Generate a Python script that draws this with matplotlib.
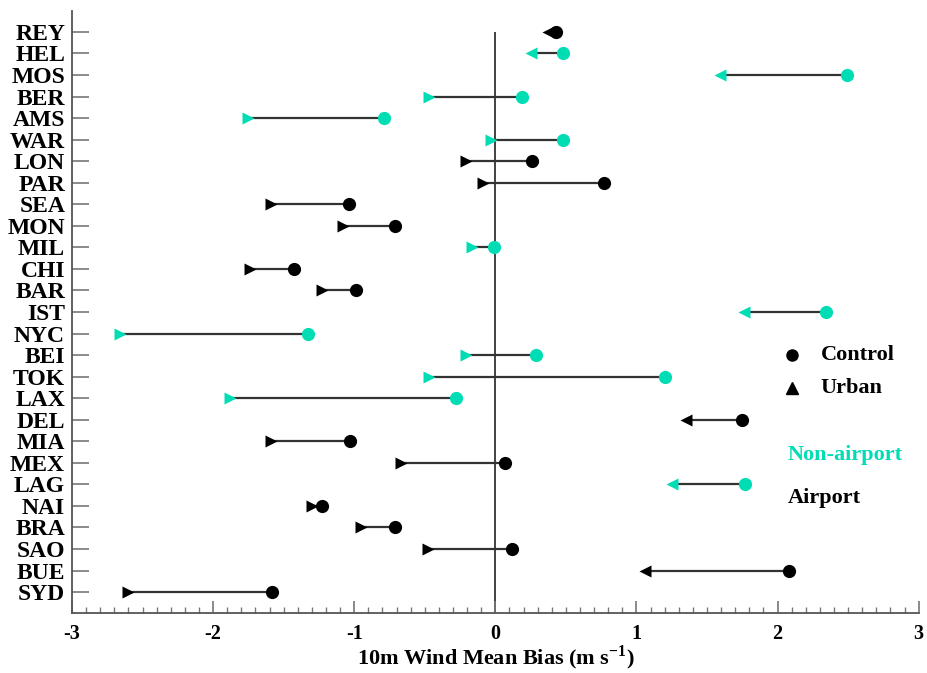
import matplotlib
matplotlib.use("Agg")
import matplotlib.pyplot as plt

plt.rcParams["font.family"] = ["Liberation Serif", "DejaVu Serif"]
plt.rcParams["font.weight"] = "bold"
plt.rcParams["mathtext.fontset"] = "custom"
plt.rcParams["mathtext.rm"] = "Liberation Serif"
plt.rcParams["mathtext.bf"] = "Liberation Serif:bold"

cities = ["REY", "HEL", "MOS", "BER", "AMS", "WAR", "LON", "PAR", "SEA",
          "MON", "MIL", "CHI", "BAR", "IST", "NYC", "BEI", "TOK", "LAX",
          "DEL", "MIA", "MEX", "LAG", "NAI", "BRA", "SAO", "BUE", "SYD"]
control = [0.43, 0.48, 2.49, 0.19, -0.79, 0.48, 0.26, 0.77, -1.04,
           -0.71, -0.01, -1.43, -0.99, 2.34, -1.33, 0.29, 1.20, -0.28,
           1.75, -1.03, 0.07, 1.77, -1.23, -0.71, 0.12, 2.08, -1.58]
urban = [0.37, 0.25, 1.59, -0.47, -1.75, -0.03, -0.21, -0.09, -1.59,
         -1.08, -0.165, -1.74, -1.23, 1.76, -2.66, -0.21, -0.47, -1.88,
         1.35, -1.59, -0.67, 1.25, -1.30, -0.955, -0.48, 1.06, -2.60]
non_airport = ["HEL", "MOS", "BER", "AMS", "WAR", "MIL", "IST", "NYC",
               "BEI", "TOK", "LAX", "LAG"]

teal = "#00DDB5"

fig = plt.figure(figsize=(9.27, 6.73), dpi=100)
ax = fig.add_axes([0.0777, 0.0892, 0.9133, 0.8945])

n = len(cities)
ax.vlines(0, 0, n - 0.03, color="#333333", lw=1.3, zorder=1)

for i, (c, ctl, urb) in enumerate(zip(cities, control, urban)):
    col = teal if c in non_airport else "black"
    ax.plot([ctl, urb], [i, i], color="#333333", lw=1.6, zorder=2)
    # triangle points back towards zero
    tri = "<" if urb > 0 else ">"
    ax.plot(urb, i, marker=tri, color=col, ms=9, mec="none", zorder=3)
    ax.plot(ctl, i, marker="o", color=col, ms=9.5, mec="none", zorder=4)

ax.set_xlim(-3, 3)
ax.set_ylim(n - 0.03, -0.97)
ax.set_yticks(range(n))
ax.set_yticklabels(cities, fontsize=17, fontweight="bold")
ax.set_xticks([-3, -2, -1, 0, 1, 2, 3])
ax.set_xticklabels(["-3", "-2", "-1", "0", "1", "2", "3"], fontsize=14.5,
                   fontweight="bold")
ax.set_xticks([x / 10 for x in range(-30, 31) if x % 10], minor=True)

for side in ["top", "right"]:
    ax.spines[side].set_visible(False)
for side in ["left", "bottom"]:
    ax.spines[side].set_color("#555555")
    ax.spines[side].set_linewidth(1.3)

ax.tick_params(axis="y", direction="in", length=12, width=1.2,
               color="#777777", pad=5)
ax.tick_params(axis="x", which="major", direction="in", length=8.5,
               width=1.2, color="#777777", pad=8)
ax.tick_params(axis="x", which="minor", direction="in", length=4,
               width=1.0, color="#777777")

ax.set_xlabel(r"10m Wind Mean Bias (m s$^{\mathbf{-1}}$)", fontsize=16,
              fontweight="bold")
ax.xaxis.label.set_verticalalignment("baseline")
ax.xaxis.set_label_coords(0.5, -0.086)

# marker key and airport colour key
ax.plot(0.85, 0.4286, "o", color="black", ms=8, transform=ax.transAxes,
        clip_on=False)
ax.plot(0.85, 0.3738, "^", color="black", ms=8, transform=ax.transAxes,
        clip_on=False)
ax.text(0.884, 0.4286, "Control", transform=ax.transAxes, fontsize=16,
        fontweight="bold", va="center")
ax.text(0.884, 0.3738, "Urban", transform=ax.transAxes, fontsize=16,
        fontweight="bold", va="center")
ax.text(0.845, 0.2625, "Non-airport", transform=ax.transAxes, fontsize=16,
        fontweight="bold", va="center", color=teal)
ax.text(0.845, 0.191, "Airport", transform=ax.transAxes, fontsize=16,
        fontweight="bold", va="center", color="black")

fig.savefig("out.png", dpi=100)
